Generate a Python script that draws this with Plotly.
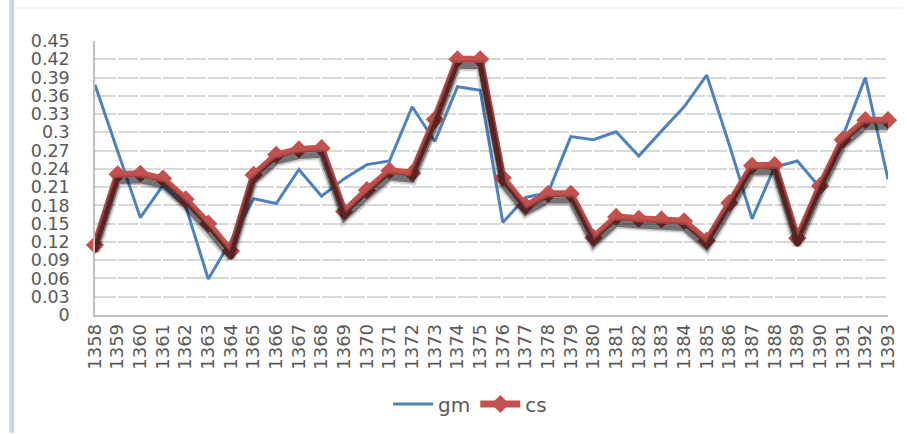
import plotly.graph_objects as go

years = [str(y) for y in range(1358, 1394)]
gm = [0.378, 0.269, 0.160, 0.213, 0.179, 0.059, 0.122, 0.191, 0.183, 0.239,
      0.195, 0.224, 0.247, 0.253, 0.342, 0.285, 0.375, 0.369, 0.152, 0.193,
      0.201, 0.293, 0.288, 0.301, 0.261, 0.302, 0.342, 0.394, 0.279, 0.158,
      0.243, 0.253, 0.209, 0.293, 0.390, 0.223]
cs = [0.115, 0.231, 0.232, 0.224, 0.190, 0.150, 0.105, 0.230, 0.263, 0.272,
      0.274, 0.170, 0.205, 0.237, 0.233, 0.321, 0.420, 0.420, 0.225, 0.179,
      0.199, 0.199, 0.127, 0.161, 0.158, 0.157, 0.154, 0.122, 0.184, 0.245,
      0.246, 0.126, 0.212, 0.288, 0.320, 0.320]
y_ticks = [round(0.03 * i, 2) for i in range(16)]
y_tick_text = ["0" if v == 0 else ("%g" % v) for v in y_ticks]

fig = go.Figure()

# soft drop shadow of the cs series (drawn on a slightly shifted overlay axis)
for w, a in [(12, 0.07), (9, 0.16), (6, 0.42)]:
    fig.add_trace(go.Scatter(x=years, y=cs, mode="lines", yaxis="y2",
                             line=dict(color="rgba(0,0,0,%s)" % a, width=w),
                             showlegend=False, hoverinfo="skip", cliponaxis=False))

fig.add_trace(go.Scatter(x=years, y=gm, name="gm", mode="lines", cliponaxis=False,
                         line=dict(color="#4F81BD", width=3)))
fig.add_trace(go.Scatter(x=years, y=cs, name="cs", mode="lines+markers", cliponaxis=False,
                         line=dict(color="#C3524F", width=7),
                         marker=dict(symbol="diamond", size=14, color="#C3524F")))

grid = dict(showgrid=True, gridcolor="#D9D9D9", gridwidth=1.5, griddash="20.66px,2px")
fig.update_layout(
    width=907, height=434,
    margin=dict(l=95, r=19, t=41, b=118),
    paper_bgcolor="white", plot_bgcolor="white",
    font=dict(family="DejaVu Sans", color="#595959"),
    xaxis=dict(type="category", tickangle=-90, range=[0, 35],
               tickmode="array", tickvals=years, ticktext=years,
               tickfont=dict(size=18, family="DejaVu Sans", color="#595959"),
               showgrid=False, showline=True, linecolor="#BFBFBF", linewidth=1.5,
               ticks="", zeroline=False, automargin=False),
    yaxis=dict(range=[0, 0.45], tickvals=y_ticks, ticktext=y_tick_text,
               tickfont=dict(size=17.5, family="DejaVu Sans", color="#595959"),
               showline=True, linecolor="#BFBFBF", linewidth=1.5, ticks="",
               zeroline=False, ticklabelstandoff=20, automargin=False, **grid),
    yaxis2=dict(range=[0.011, 0.461], overlaying="y", visible=False),
    legend=dict(orientation="h", x=0.473, xanchor="center", y=-0.32, yanchor="middle",
                font=dict(size=20, color="#595959", family="DejaVu Sans"),
                itemwidth=40, bgcolor="rgba(0,0,0,0)"),
    shapes=[dict(type="rect", xref="paper", yref="paper",
                 x0=-0.108, x1=-0.102, y0=-0.43, y1=1.15,
                 fillcolor="#C6D5EA", line=dict(width=0), layer="below"),
            dict(type="line", xref="paper", yref="paper",
                 x0=-0.102, x1=1.02, y0=1.12, y1=1.12,
                 line=dict(color="#EEF2F8", width=1.5), layer="below")],
)

fig.write_html("out.html", config={"displayModeBar": False},
               post_script="document.body.style.margin='0px';")
